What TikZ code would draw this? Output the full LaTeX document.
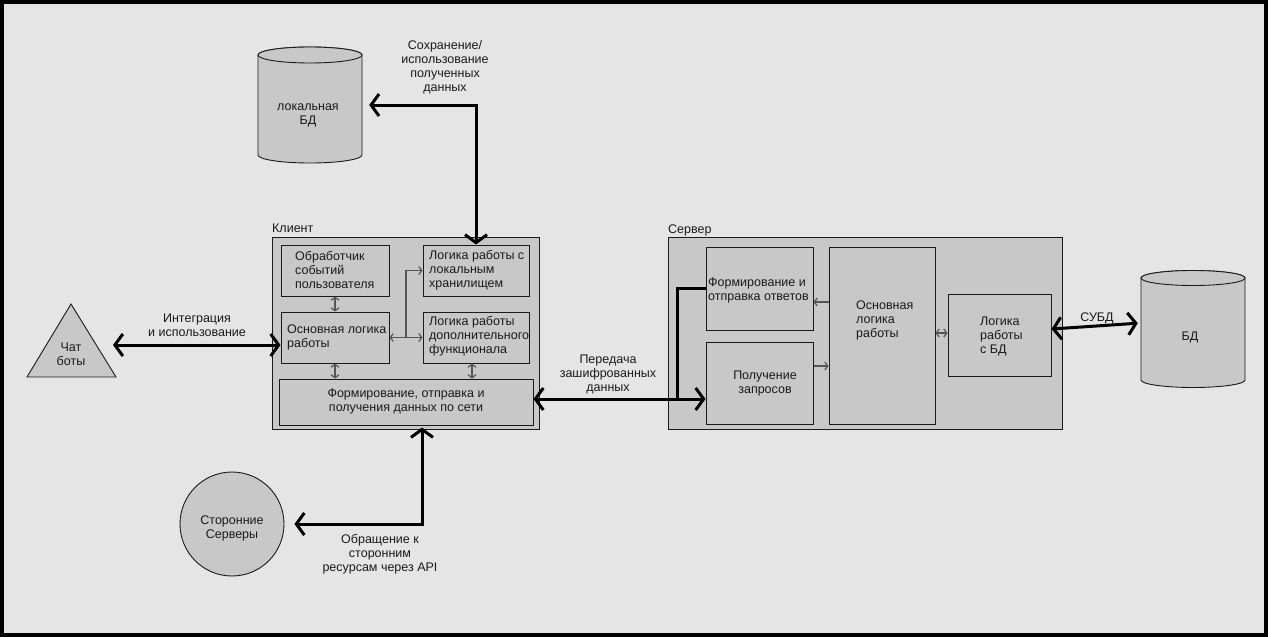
\documentclass[tikz,border=0pt]{standalone}
\usepackage{fontspec}
\setmainfont{Liberation Sans}
\usetikzlibrary{arrows.meta,calc}
\definecolor{paper}{HTML}{E5E5E5}
\definecolor{boxfill}{HTML}{C8C8C8}
\definecolor{ink}{HTML}{1A1A1A}
\definecolor{thinink}{HTML}{555555}
\tikzset{
  box/.style={draw=ink, fill=boxfill, line width=1pt, inner sep=0pt},
  anchorbox/.style={inner sep=0pt},
  txt/.style={text=ink, font=\fontsize{12.5}{14}\selectfont, inner sep=0pt},
  ltxt/.style={txt, align=left, anchor=west},
  ctxt/.style={txt, align=center},
  shapefill/.style={draw=ink, fill=boxfill, line width=0.9pt},
  bigline/.style={draw=black, line width=3pt},
  bigarrow/.style={bigline, {Straight Barb[length=8pt,width=22pt]}-{Straight Barb[length=8pt,width=22pt]}},
  thinline/.style={draw=thinink, line width=1.2pt},
  thinboth/.style={thinline, {Straight Barb[length=3pt,width=8pt]}-{Straight Barb[length=3pt,width=8pt]}},
  thintip/.style={thinline, -{Straight Barb[length=3pt,width=8pt]}},
}
\begin{document}
\begin{tikzpicture}[x=1pt,y=-1pt]
  % frame and background
  \fill[black] (0,0) rectangle (1268,637);
  \fill[paper] (4,4) rectangle (1264,633);
  \useasboundingbox (0,0) rectangle (1268,637);

  % local database cylinder
  \path[shapefill] (258,55) -- (258,155)
    arc[start angle=180, end angle=0, x radius=52, y radius=8]
    -- (362,55) arc[start angle=0, end angle=-180, x radius=52, y radius=8] -- cycle;
  \path[shapefill] (310,55) ellipse[x radius=52, y radius=8];
  \node[anchorbox, minimum width=104pt, minimum height=116pt] (ldb) at (310,105) {};
  \node[ctxt] (ldbtxt) at (308,115) {локальная\\БД};

  % main database cylinder
  \path[shapefill] (1141,278) -- (1141,380)
    arc[start angle=180, end angle=0, x radius=52, y radius=7.5]
    -- (1245,278) arc[start angle=0, end angle=-180, x radius=52, y radius=7.5] -- cycle;
  \path[shapefill] (1193,278) ellipse[x radius=52, y radius=7.5];
  \node[anchorbox, minimum width=104pt, minimum height=116pt] (db) at (1193,329) {};
  \node[ctxt] (dbtxt) at (1190,337) {БД};

  % chat bots triangle
  \path[shapefill] (71,304) -- (116,377) -- (27,377) -- cycle;
  \node[ctxt] (chat) at (71,354) {Чат\\боты};
  \coordinate (chatR) at (113,345);

  % third-party servers
  \node[circle, shapefill, minimum size=104pt, inner sep=0pt] (ext3) at (232,524) {};
  \node[ctxt] (ext3txt) at (232,528) {Сторонние\\Серверы};

  % client
  \node[txt, anchor=west] (clientlbl) at (272,228) {Клиент};
  \node[box, minimum width=267pt, minimum height=192pt] (client) at (405.5,333) {};
  \node[box, minimum width=108pt, minimum height=51pt] (ev) at (335,270.5) {};
  \node[box, minimum width=106pt, minimum height=51pt] (lst) at (476,270.5) {};
  \node[box, minimum width=108pt, minimum height=51pt] (cmain) at (335,337.5) {};
  \node[box, minimum width=106pt, minimum height=51pt] (ext) at (476,337.5) {};
  \node[box, minimum width=254pt, minimum height=46pt] (net) at (406,402) {};
  \node[ltxt] (evtxt) at (295,270) {Обработчик\\событий\\пользователя};
  \node[ltxt] (lsttxt) at (429,270) {Логика работы с\\локальным\\хранилищем};
  \node[ltxt] (cmaintxt) at (287,337) {Основная логика\\работы};
  \node[ltxt] (exttxt) at (429,336) {Логика работы\\дополнительного\\функционала};
  \node[ctxt] (nettxt) at (406,401) {Формирование, отправка и\\получения данных по сети};

  % server
  \node[txt, anchor=west] (serverlbl) at (668,230) {Сервер};
  \node[box, minimum width=394pt, minimum height=192pt] (server) at (865,333) {};
  \node[box, minimum width=107pt, minimum height=83pt] (resp) at (759.5,288.5) {};
  \node[box, minimum width=107pt, minimum height=82pt] (req) at (759.5,383) {};
  \node[box, minimum width=106pt, minimum height=177pt] (smain) at (882,335.5) {};
  \node[box, minimum width=103pt, minimum height=82pt] (dbl) at (999.5,335) {};
  \node[ltxt] (resptxt) at (708,290) {Формирование и\\отправка ответов};
  \node[ctxt] (reqtxt) at (765,383) {Получение\\запросов};
  \node[ltxt] (smaintxt) at (856,320) {Основная\\логика\\работы};
  \node[ltxt] (dbltxt) at (980,336) {Логика\\работы\\с БД};

  % thin links inside the client
  \draw[thinboth] (ev.south) -- (cmain.north);
  \draw[thinboth] (cmain.south) -- (cmain.south |- net.north);
  \draw[thinboth] ($(ext.south)+(-4,0)$) -- ($(ext.south |- net.north)+(-4,0)$);
  \draw[thinboth] (cmain.east) -- (ext.west);
  \draw[thintip] ($(cmain.east)!0.5!(ext.west)$) |- (lst.west);

  % thin links inside the server
  \draw[thintip] ($(smain.west)+(0,-33.5)$) -- ($(resp.east)+(0,13.5)$);
  \draw[thintip] ($(req.east)+(0,-17)$) -- ($(smain.west)+(0,30.5)$);
  \draw[thinboth] ($(smain.east)+(0,-2.5)$) -- ($(dbl.west)+(0,-2)$);

  % external connections
  \draw[bigarrow, shorten >=7pt] (lst.north) |- (ldb.east);
  \node[ctxt] (savelbl) at (445,67) {Сохранение/\\использование\\полученных\\данных};

  \draw[bigarrow] (chatR) -- (chatR -| cmain.west);
  \node[ctxt] (intlbl) at (197,325) {Интеграция\\и использование};

  \draw[bigarrow, shorten >=10pt] ($(net.south)+(16,2)$) |- (ext3.east);
  \node[ctxt] (apilbl) at (380,554) {Обращение к\\сторонним\\ресурсам через API};

  \coordinate (lnkL) at ($(net.east)+(0,-3)$);
  \draw[bigarrow] (lnkL) -- (lnkL -| req.west);
  \draw[bigline] ($(req.west)+(-28,16)$) |- (resp.west);
  \node[ctxt] (enclbl) at (608,374) {Передача\\зашифрованных\\данных};

  \draw[bigarrow, shorten >=3pt] ($(dbl.east)+(0,-6)$) -- ($(db.west)+(0,-6)$);
  \node[txt] (dbmslbl) at (1097,318) {СУБД};
\end{tikzpicture}
\end{document}
